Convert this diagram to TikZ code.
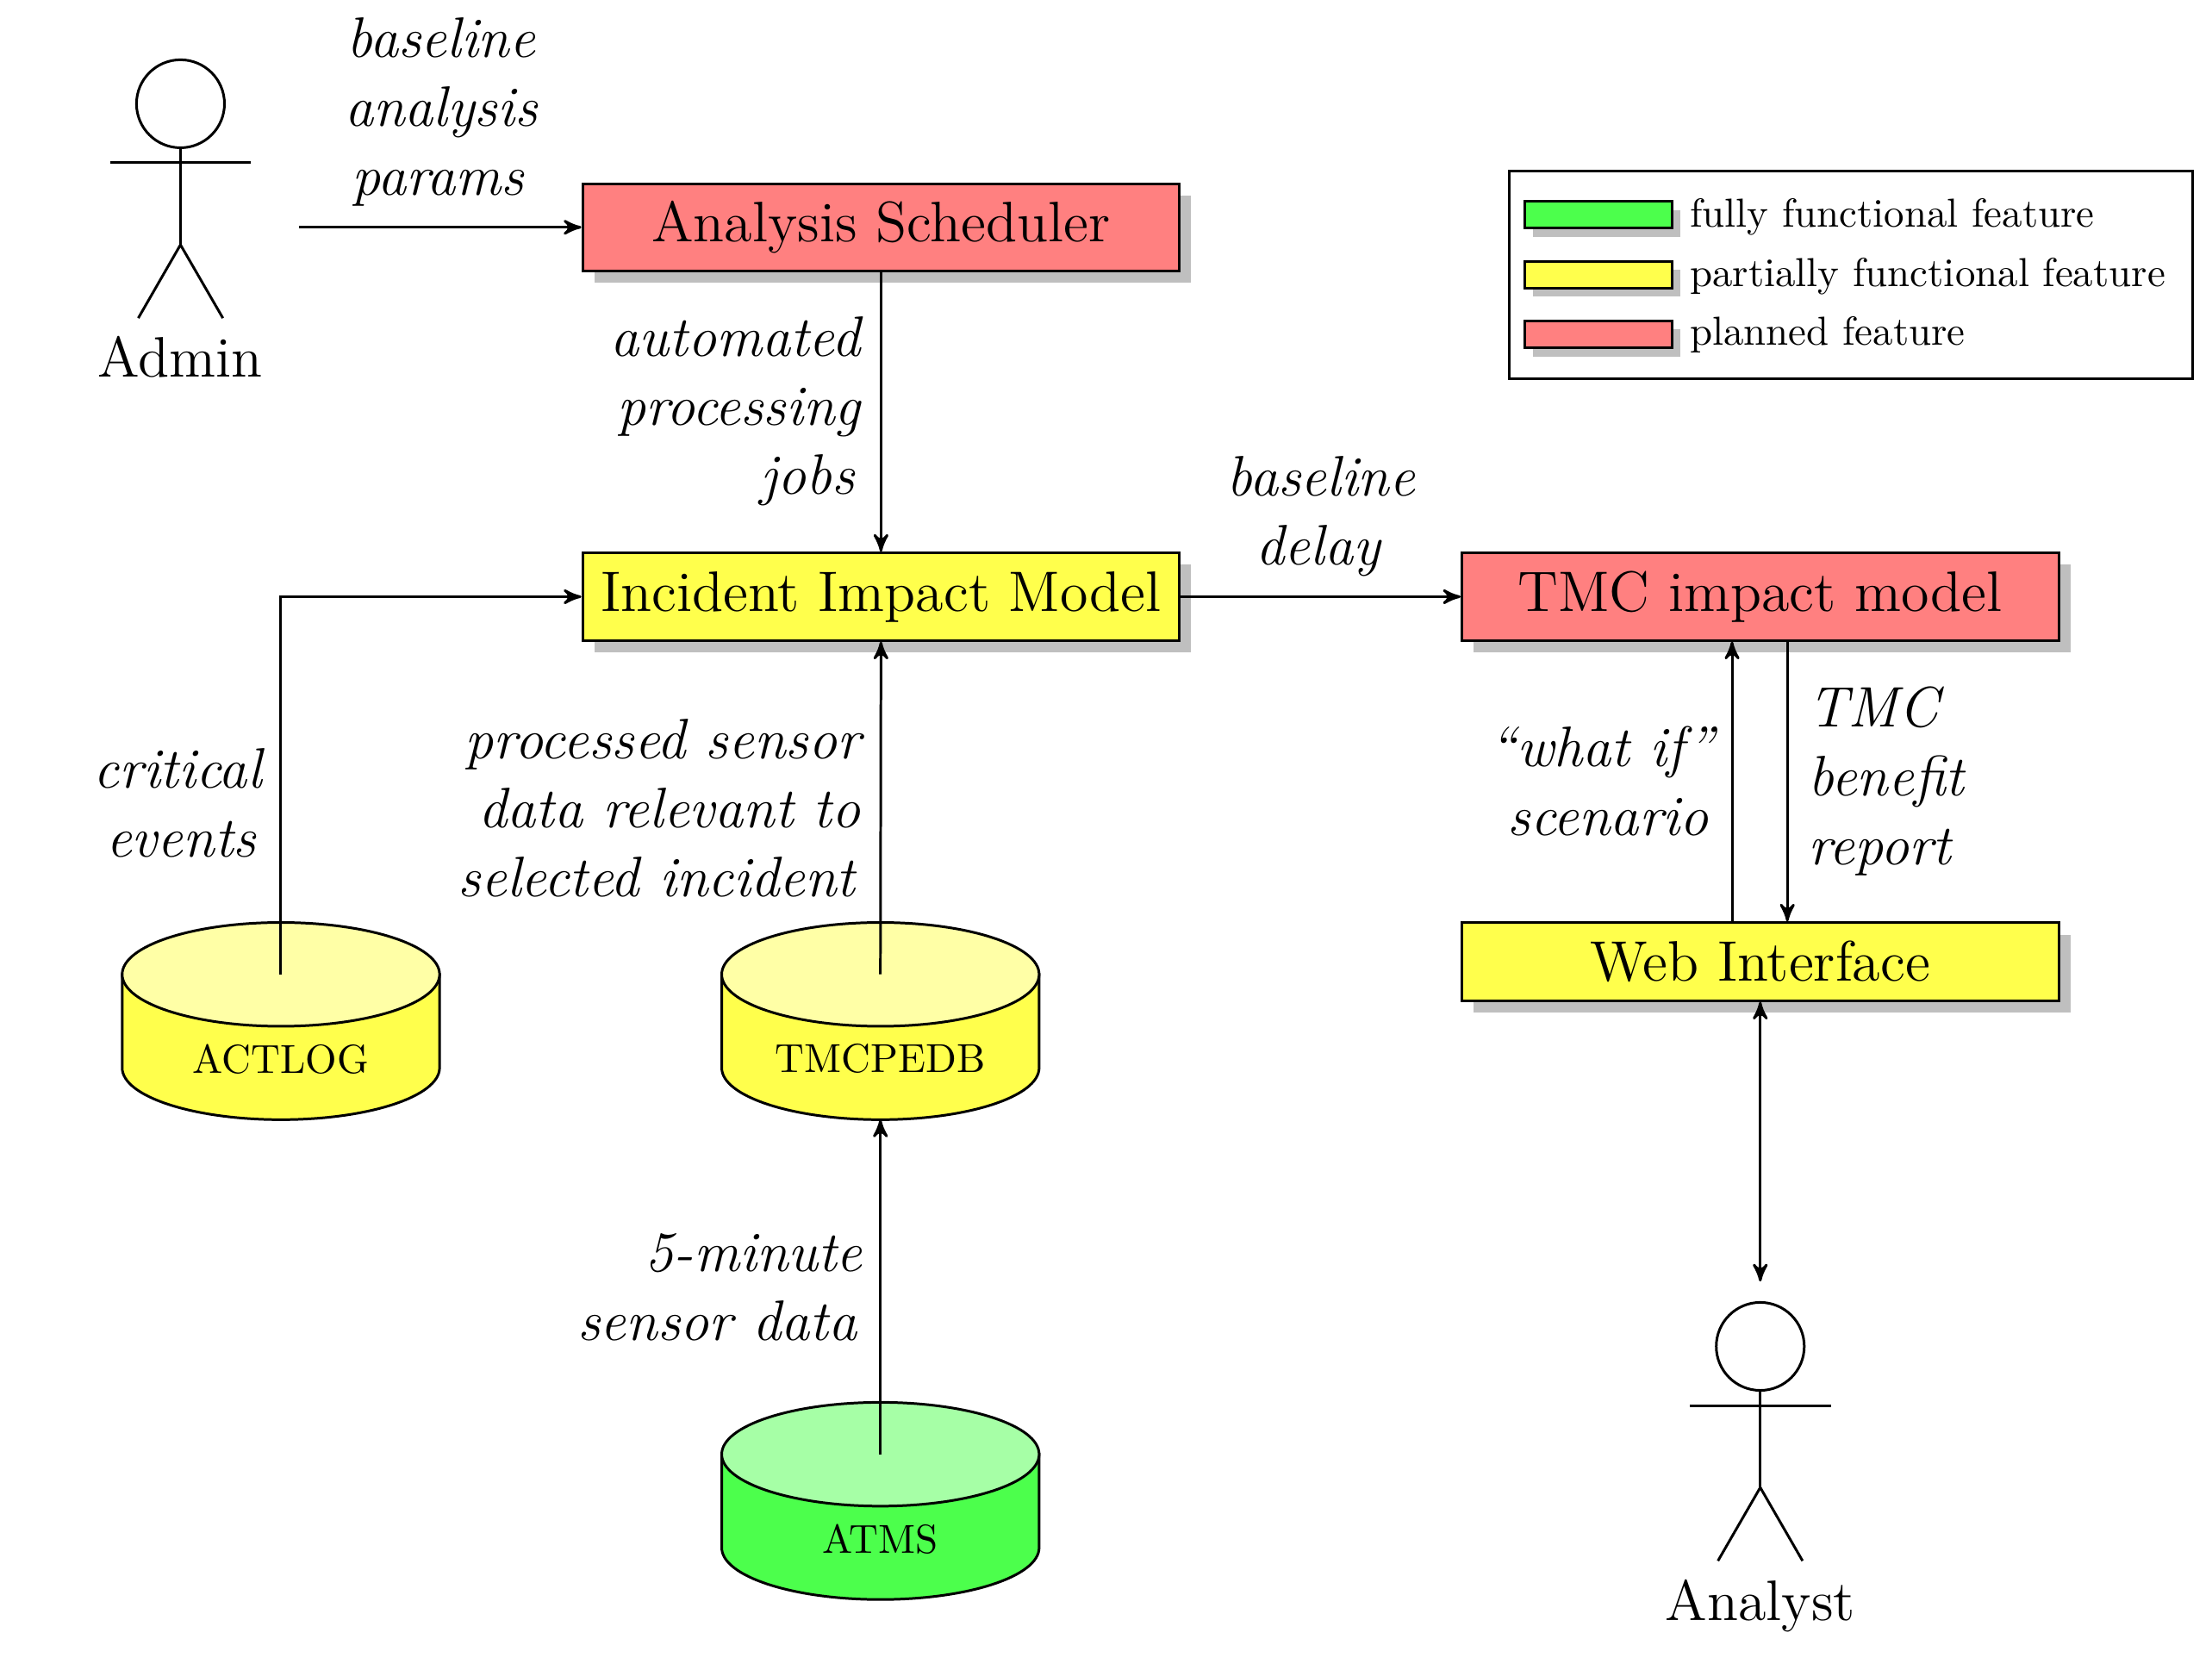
\documentclass[tikz,border=0pt]{standalone}
\usepackage{amsmath, amssymb}
\usepackage{xcolor}
\usepackage{tikz}
\usetikzlibrary{arrows,calc,shadows}
\definecolor{doneg}{rgb}{0.3,1,0.3}
\definecolor{partb}{rgb}{1,1,0.3}
\definecolor{planr}{rgb}{1,0.5,0.5}
\tikzset{
  feature/.style={draw,minimum width=5.29cm,minimum height=0.775cm,inner sep=0pt,font=\Large,
    drop shadow={shadow xshift=0.105cm,shadow yshift=-0.105cm,fill=black!25,opacity=1}},
  swatch/.style={draw,minimum width=1.31cm,minimum height=0.238cm,inner sep=0pt,
    drop shadow={shadow xshift=0.075cm,shadow yshift=-0.075cm,fill=black!25,opacity=1}},
  keytext/.style={anchor=west,inner sep=0pt,font=\fontsize{10.2}{12}\selectfont},
  flow/.style={-stealth'},
  tag/.style={inner sep=0pt,align=#1,font=\fontsize{14.4}{17.4}\selectfont\itshape},
  tag/.default=center
}
\begin{document}
\begin{tikzpicture}[line width=0.65pt]
\useasboundingbox (0,0) rectangle (19.61,14.8);
% boxes
\node[feature,fill=planr] (scheduler) at (7.81,12.785) {Analysis Scheduler};
\node[feature,fill=partb] (impact) at (7.81,9.51) {Incident Impact Model};
\node[feature,fill=planr] (tmc) at (15.605,9.51) {TMC impact model};
\node[feature,fill=partb,minimum height=0.69cm] (web) at (15.605,6.275) {Web Interface};
% stores
\foreach \name/\x/\y/\col/\txt in {actlog/2.49/6.162/partb/ACTLOG,tmcpedb/7.805/6.162/partb/TMCPEDB,atms/7.805/1.908/doneg/ATMS}{
  \draw[fill=\col] (\x-1.407,\y) -- (\x-1.407,\y-0.828)
    arc[start angle=180,end angle=360,x radius=1.407,y radius=0.46]
    -- (\x+1.407,\y) -- cycle;
  \draw[fill=\col!50!white] (\x,\y) ellipse (1.407 and 0.46);
  \coordinate (\name-top) at (\x,\y);
  \coordinate (\name-bot) at (\x,\y-1.288);
  \node[font=\fontsize{10.2}{12}\selectfont] (\name) at (\x,\y-0.75) {\txt};
}
% admin
\coordinate (AH) at (1.60,13.88);
\draw (AH) circle (0.39);
\draw (1.60,13.49)--(1.60,12.63);
\draw (0.976,13.36)--(2.226,13.36);
\draw (1.226,11.98)--(1.60,12.63)--(1.976,11.98);
\node[font=\Large] (admin) at (1.60,11.635) {Admin};
\coordinate (adminout) at (2.65,12.785);
% analyst
\coordinate (NH) at (15.605,2.864);
\draw (NH) circle (0.39);
\draw (15.605,2.476)--(15.605,1.613);
\draw (14.98,2.339)--(16.23,2.339);
\draw (15.23,0.963)--(15.605,1.613)--(15.98,0.963);
\node[font=\Large] (analyst) at (15.605,0.565) {Analyst};
\coordinate (analystin) at (15.605,3.44);
% connectors
\draw[flow] (adminout)--(scheduler.west);
\draw[flow] (scheduler.south)--(impact.north);
\draw[flow] (impact.east)--(tmc.west);
\draw[flow] (actlog-top)|-(impact.west);
\draw[flow] (tmcpedb-top)--(impact.south);
\draw[flow] (atms-top)--(tmcpedb-bot);
\draw[flow] ([xshift=-0.25cm]web.north)--([xshift=-0.25cm]tmc.south);
\draw[flow] ([xshift=0.24cm]tmc.south)--([xshift=0.24cm]web.north);
\draw[stealth'-stealth'] (web.south)--(analystin);
% labels
\node[tag] (tagparams) at (3.91,13.81) {baseline\\analysis\\params\kern1.4pt};
\node[tag=right,anchor=east] (tagjobs) at (7.64,11.155) {automated\\processing\\jobs\kern1.4pt};
\node[tag] (tagdelay) at (11.71,10.22) {baseline\\delay\kern1.4pt};
\node[tag=right,anchor=east] (tagevents) at (2.33,7.68) {critical\\events\kern1.4pt};
\node[tag=right,anchor=east] (tagsensor) at (7.64,7.635) {processed sensor\\data relevant to\\selected incident\kern1.4pt};
\node[tag=right,anchor=east] (tagminute) at (7.655,3.39) {5-minute\\sensor data\kern1.4pt};
\node[tag=right,anchor=east] (tagwhatif) at (15.205,7.875) {``what if''\\scenario\kern1.4pt};
\node[tag=left,anchor=west] (tagreport) at (16.02,7.875) {TMC\\benefit\\report};
% legend
\draw (13.38,11.44) rectangle (19.436,13.28);
\node[swatch,fill=doneg] (keyfull) at (14.17,12.895) {};
\node[swatch,fill=partb] (keypart) at (14.17,12.365) {};
\node[swatch,fill=planr] (keyplan) at (14.17,11.835) {};
\node[keytext] (textfull) at (14.97,12.88) {fully functional feature};
\node[keytext] (textpart) at (14.97,12.35) {partially functional feature};
\node[keytext] (textplan) at (14.97,11.83) {planned feature};
\end{tikzpicture}
\end{document}
